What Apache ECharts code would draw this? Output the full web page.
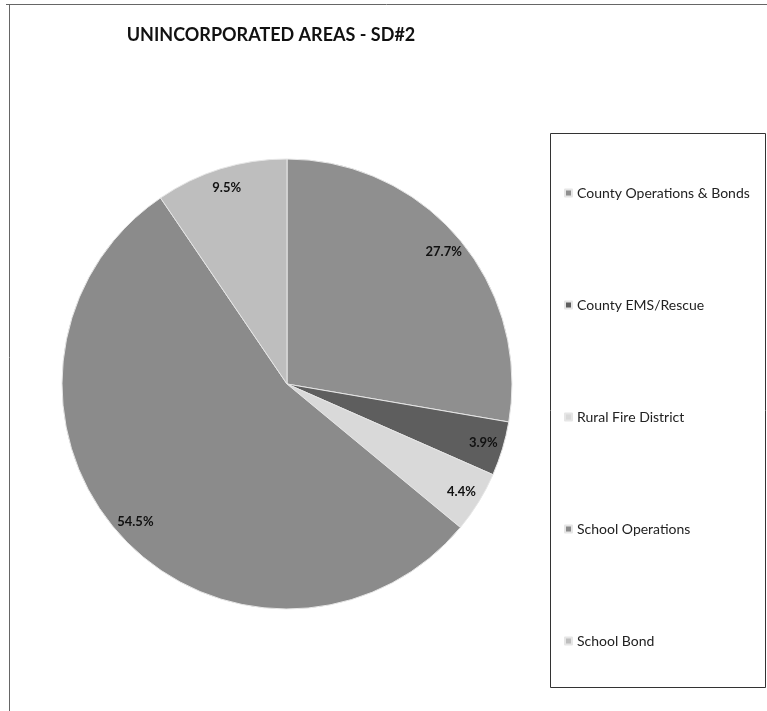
<!DOCTYPE html>
<html lang="en">
<head>
    <meta charset="UTF-8">
    <title>Unincorporated Areas - SD#2</title>
    <style>
        html, body {
            margin: 0;
            padding: 0;
            background: #ffffff;
        }

        #chart-canvas {
            width: 767px;
            height: 711px;
        }
    </style>
</head>
<body>
<div id="chart-canvas"></div>
<script src="https://cdn.jsdelivr.net/npm/echarts@6/dist/echarts.min.js"></script>
<script type="text/javascript">
    // data
    const categories = [
        "County Operations & Bonds",
        "County EMS/Rescue",
        "Rural Fire District",
        "School Operations",
        "School Bond"
    ];
    const shares = [27.7, 3.9, 4.4, 54.5, 9.5];
    const sliceColors = ["#8f8f8f", "#5e5e5e", "#d9d9d9", "#8b8b8b", "#bebebe"];

    const pieData = categories.map((name, i) => ({
        name: name,
        value: shares[i],
        itemStyle: {color: sliceColors[i]}
    }));

    const fontFamily = "Lato, 'Open Sans', sans-serif";

    let myChart = echarts.init(document.getElementById('chart-canvas'));
    myChart.setOption({
        animation: false,
        backgroundColor: '#ffffff',
        title: {
            text: 'UNINCORPORATED AREAS - SD#2',
            left: 266,
            top: 21,
            textAlign: 'center',
            textStyle: {
                fontFamily: fontFamily,
                fontSize: 18,
                fontWeight: 'bold',
                color: '#111'
            }
        },
        legend: {
            orient: 'vertical',
            left: 559,
            top: 180,
            icon: 'rect',
            itemWidth: 7,
            itemHeight: 7,
            itemGap: 96,
            data: categories,
            textStyle: {
                fontFamily: fontFamily,
                fontSize: 14,
                lineHeight: 16,
                color: '#222'
            }
        },
        graphic: [
            // outer frame (top and left edges visible in the scan)
            {type: 'line', shape: {x1: 6, y1: 4.5, x2: 767, y2: 4.5}, style: {stroke: '#666', lineWidth: 1}},
            {type: 'line', shape: {x1: 9.5, y1: 4, x2: 9.5, y2: 711}, style: {stroke: '#666', lineWidth: 1}},
            // legend box
            {
                type: 'rect',
                z: -1,
                shape: {x: 550.5, y: 133.5, width: 215, height: 554},
                style: {fill: 'none', stroke: '#333', lineWidth: 1}
            }
        ],
        series: [
            {
                name: 'share',
                type: 'pie',
                center: [287, 384],
                radius: 225,
                startAngle: 90,
                clockwise: true,
                silent: true,
                data: pieData,
                itemStyle: {
                    borderColor: '#e6e6e6',
                    borderWidth: 1
                },
                label: {show: false},
                labelLine: {show: false}
            },
            {
                // label carrier: same slices, transparent, labels near the rim
                name: 'labels',
                type: 'pie',
                center: [287, 384],
                radius: 404,
                startAngle: 90,
                clockwise: true,
                silent: true,
                z: 3,
                data: categories.map((name, i) => ({name: name, value: shares[i]})),
                itemStyle: {color: 'transparent', borderWidth: 0},
                label: {
                    show: true,
                    position: 'inside',
                    formatter: p => p.value.toFixed(1) + '%',
                    fontFamily: fontFamily,
                    fontSize: 13,
                    fontWeight: 'bold',
                    color: '#111'
                },
                labelLine: {show: false}
            }
        ]
    });
</script>
</body>
</html>
